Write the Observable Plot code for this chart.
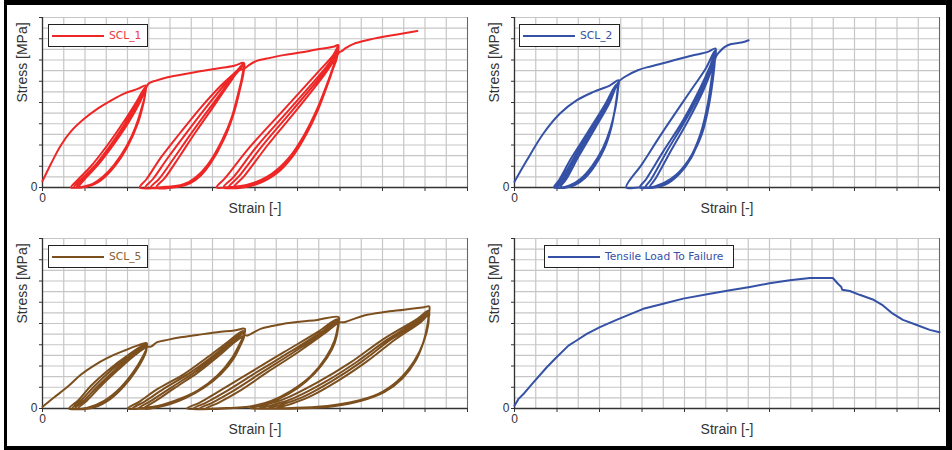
<!DOCTYPE html>
<html>
<head>
<meta charset="utf-8">
<script src="https://cdn.jsdelivr.net/npm/d3@7"></script>
<script src="https://cdn.jsdelivr.net/npm/@observablehq/plot@0.6"></script>
<style>
  html, body { margin: 0; padding: 0; background: #fff; }
  #wrap { position: relative; width: 952px; height: 450px; overflow: hidden; background: #fff; }
  #frame { position: absolute; left: 4px; top: 0; width: 948px; height: 450px; box-sizing: border-box;
           border-left: 3px solid #000; border-top: 5px solid #000; border-right: 6px solid #000; border-bottom: 4px solid #000; }
  .panel { position: absolute; }
  .legend { position: absolute; box-sizing: border-box; background: #fff; border: 1.5px solid #222;
            display: flex; align-items: center; font-family: "DejaVu Sans", sans-serif; font-size: 10.7px; white-space: nowrap; }
  .legend .sw { display: inline-block; height: 2px; margin-left: 2.5px; margin-right: 5.5px; }
</style>
</head>
<body>
<div id="wrap"><div id="frame"></div></div>
<script>
// ---- categories / labels ----
const seriesNames = ["SCL_1", "SCL_2", "SCL_5", "Tensile Load To Failure"];
const xLabel = "Strain [-]";
const yLabel = "Stress [MPa]";
const xMajorTicks = [0,1,2,3,4,5,6,7,8,9,10];
const yMajorTicks = [0,1,2,3,4,5,6,7,8];
const xGridTicks = [0,0.5,1,1.5,2,2.5,3,3.5,4,4.5,5,5.5,6,6.5,7,7.5,8,8.5,9,9.5,10];
const yGridTicks = [0,0.5,1,1.5,2,2.5,3,3.5,4,4.5,5,5.5,6,6.5,7,7.5,8];

// ---- SCL_1 : [strain, stress] in order of test ----
const scl1 = [
  [0,0.3],[0.2,1.12],[0.43,1.98],[0.67,2.64],[0.98,3.23],[1.29,3.7],[1.61,4.09],[1.92,4.42],[2.24,4.64],[2.43,4.8],
  [2.42,4.45],[2.38,4.0],[2.24,3.0],[2.02,2.0],[1.69,1.0],[1.45,0.5],[1.2,0.18],[0.95,0.04],[0.67,0],
  [0.85,0.4],[1.14,1.0],[1.53,2.0],[1.88,3.0],[2.2,4.0],[2.42,4.72],
  [2.41,4.3],[2.34,3.8],[2.2,2.9],[1.98,1.95],[1.68,1.05],[1.42,0.5],[1.18,0.17],[0.96,0.03],[0.74,0],
  [0.92,0.4],[1.22,1.0],[1.6,2.0],[1.94,3.0],[2.24,4.0],[2.42,4.68],
  [2.4,4.25],[2.33,3.7],[2.19,2.85],[1.98,1.9],[1.7,1.05],[1.45,0.5],[1.22,0.17],[1.0,0.03],[0.8,0],
  [0.98,0.42],[1.28,1.05],[1.66,2.05],[1.98,3.0],[2.27,4.0],[2.42,4.65],
  [2.4,4.2],[2.32,3.6],[2.18,2.75],[1.98,1.85],[1.72,1.05],[1.48,0.52],[1.25,0.18],[1.03,0.04],[0.85,0],
  [1.02,0.45],[1.32,1.1],[1.7,2.1],[2.02,3.05],[2.3,4.05],[2.44,4.7],
  [2.5,4.9],[2.67,5.03],[2.94,5.19],[3.49,5.39],[4.04,5.58],[4.51,5.73],[4.74,5.86],
  [4.73,5.4],[4.66,4.74],[4.5,3.48],[4.26,2.23],[3.87,0.97],[3.6,0.45],[3.3,0.14],[2.9,0.03],[2.29,0],
  [2.45,0.4],[2.8,1.45],[3.25,2.6],[3.72,3.75],[4.2,4.8],[4.55,5.45],[4.73,5.8],
  [4.71,5.3],[4.63,4.6],[4.47,3.4],[4.22,2.2],[3.88,1.05],[3.62,0.5],[3.35,0.16],[3.0,0.03],[2.42,0],
  [2.6,0.4],[2.95,1.4],[3.38,2.55],[3.82,3.7],[4.27,4.8],[4.58,5.45],[4.73,5.78],
  [4.7,5.25],[4.62,4.55],[4.46,3.35],[4.23,2.2],[3.92,1.1],[3.67,0.52],[3.4,0.17],[3.1,0.03],[2.55,0],
  [2.75,0.42],[3.1,1.4],[3.5,2.55],[3.92,3.7],[4.33,4.8],[4.6,5.45],[4.73,5.75],
  [4.7,5.2],[4.62,4.5],[4.47,3.35],[4.25,2.2],[3.96,1.15],[3.72,0.55],[3.47,0.19],[3.2,0.04],[2.68,0],
  [2.88,0.45],[3.22,1.45],[3.6,2.6],[4.0,3.75],[4.38,4.85],[4.62,5.5],[4.76,5.6],
  [4.85,5.75],[5.04,5.96],[5.28,6.07],[5.67,6.23],[6.06,6.35],[6.45,6.49],[6.84,6.62],[6.96,6.7],
  [6.94,6.3],[6.89,5.99],[6.73,5.05],[6.45,3.64],[6.14,2.38],[5.75,1.29],[5.28,0.5],[4.8,0.12],[4.4,0.02],[4.1,0],
  [4.3,0.45],[4.88,1.91],[5.67,3.64],[6.45,5.36],[6.84,6.23],[6.95,6.62],
  [6.93,6.2],[6.86,5.8],[6.7,4.9],[6.44,3.6],[6.15,2.45],[5.8,1.4],[5.35,0.55],[4.85,0.12],[4.26,0],
  [4.5,0.5],[5.05,1.95],[5.8,3.65],[6.52,5.3],[6.86,6.15],[6.95,6.55],
  [6.92,6.1],[6.85,5.7],[6.7,4.85],[6.46,3.65],[6.18,2.5],[5.85,1.45],[5.45,0.62],[4.95,0.14],[4.38,0],
  [4.62,0.52],[5.18,1.98],[5.9,3.68],[6.58,5.3],[6.88,6.1],[6.96,6.5],
  [6.92,6.05],[6.84,5.6],[6.69,4.75],[6.47,3.6],[6.22,2.55],[5.9,1.5],[5.52,0.68],[5.05,0.16],[4.5,0],
  [4.75,0.55],[5.3,2.0],[6.0,3.7],[6.63,5.3],[6.9,6.1],[6.98,6.35],
  [7.04,6.42],[7.16,6.59],[7.31,6.75],[7.63,6.93],[8.02,7.09],[8.41,7.22],[8.82,7.36]
];

// ---- SCL_2 ----
const scl2 = [
  [0,0.27],[0.29,1.28],[0.68,2.54],[1.07,3.48],[1.46,4.1],[1.86,4.5],[2.25,4.81],[2.45,5.05],
  [2.44,4.7],[2.38,3.8],[2.26,2.8],[2.08,1.85],[1.82,1.0],[1.55,0.4],[1.28,0.08],[0.93,0],
  [1.05,0.35],[1.33,1.36],[1.73,2.62],[2.12,3.87],[2.4,4.85],
  [2.43,4.6],[2.37,3.75],[2.26,2.8],[2.08,1.85],[1.85,1.05],[1.58,0.42],[1.32,0.1],[0.98,0],
  [1.1,0.35],[1.4,1.4],[1.8,2.7],[2.17,3.9],[2.42,4.85],
  [2.43,4.55],[2.37,3.7],[2.26,2.75],[2.1,1.85],[1.88,1.05],[1.62,0.42],[1.37,0.1],[1.03,0],
  [1.16,0.38],[1.46,1.45],[1.85,2.75],[2.2,3.95],[2.43,4.85],
  [2.42,4.5],[2.36,3.65],[2.27,2.75],[2.12,1.85],[1.9,1.05],[1.66,0.45],[1.42,0.12],[1.08,0],
  [1.22,0.4],[1.52,1.5],[1.9,2.8],[2.24,4.0],[2.44,4.95],
  [2.59,5.2],[2.9,5.52],[3.22,5.71],[3.69,5.95],[4.16,6.2],[4.55,6.38],[4.73,6.54],
  [4.72,6.1],[4.69,5.44],[4.59,4.03],[4.4,2.46],[4.08,1.21],[3.69,0.42],[3.3,0.05],[2.9,0],[2.63,0],
  [3.0,1.1],[3.45,2.5],[4.16,4.6],[4.5,5.6],[4.72,6.45],
  [4.71,6.0],[4.66,5.3],[4.56,4.0],[4.38,2.5],[4.1,1.3],[3.75,0.5],[3.4,0.1],[2.95,0],
  [3.1,0.4],[3.5,1.7],[3.95,3.1],[4.35,4.6],[4.6,5.7],[4.72,6.35],
  [4.7,5.95],[4.65,5.2],[4.55,3.95],[4.38,2.55],[4.12,1.35],[3.8,0.55],[3.48,0.12],[3.08,0],
  [3.22,0.4],[3.6,1.75],[4.02,3.15],[4.4,4.6],[4.62,5.65],[4.72,6.3],
  [4.7,5.9],[4.64,5.15],[4.55,3.95],[4.4,2.6],[4.16,1.4],[3.86,0.6],[3.55,0.14],[3.18,0],
  [3.32,0.42],[3.7,1.8],[4.1,3.2],[4.45,4.6],[4.65,5.6],[4.75,6.2],
  [4.79,6.31],[4.95,6.62],[5.1,6.75],[5.34,6.82],[5.51,6.93]
];

// ---- SCL_5 ----
const scl5 = [
  [0,0.08],[0.27,0.52],[0.59,1.02],[0.9,1.59],[1.21,2.02],[1.53,2.38],[1.92,2.72],[2.23,2.96],[2.45,3.08],
  [2.45,2.85],[2.35,2.41],[2.16,1.78],[1.84,0.99],[1.45,0.36],[1.06,0.04],[0.63,0],
  [0.85,0.4],[1.14,1.07],[1.53,1.78],[2.0,2.49],[2.42,3.0],
  [2.44,2.8],[2.34,2.35],[2.15,1.75],[1.86,1.02],[1.5,0.4],[1.12,0.05],[0.7,0],
  [0.92,0.4],[1.22,1.05],[1.62,1.8],[2.06,2.5],[2.43,2.98],
  [2.44,2.75],[2.34,2.3],[2.16,1.72],[1.88,1.02],[1.55,0.42],[1.18,0.06],[0.77,0],
  [0.98,0.38],[1.3,1.05],[1.7,1.8],[2.12,2.5],[2.44,2.95],
  [2.44,2.7],[2.35,2.28],[2.18,1.72],[1.92,1.05],[1.6,0.45],[1.24,0.07],[0.84,0],
  [1.05,0.38],[1.38,1.07],[1.78,1.82],[2.18,2.52],[2.46,2.9],
  [2.55,2.91],[2.7,3.12],[2.94,3.23],[3.25,3.35],[3.64,3.46],[4.11,3.59],[4.51,3.67],[4.76,3.75],
  [4.75,3.5],[4.66,3.12],[4.47,2.41],[4.11,1.54],[3.64,0.83],[3.1,0.36],[2.6,0.08],[2.0,0],
  [2.3,0.35],[2.7,0.91],[3.33,1.62],[3.88,2.41],[4.35,3.12],[4.72,3.65],
  [4.74,3.45],[4.65,3.05],[4.47,2.38],[4.14,1.58],[3.7,0.9],[3.2,0.4],[2.7,0.1],[2.12,0],
  [2.42,0.35],[2.85,0.92],[3.45,1.65],[3.98,2.42],[4.42,3.12],[4.73,3.6],
  [4.74,3.4],[4.66,3.02],[4.48,2.36],[4.17,1.6],[3.76,0.95],[3.28,0.44],[2.8,0.12],[2.25,0],
  [2.55,0.36],[3.0,0.95],[3.56,1.68],[4.06,2.44],[4.47,3.12],[4.74,3.55],
  [4.74,3.35],[4.66,2.98],[4.5,2.36],[4.2,1.62],[3.8,0.98],[3.35,0.48],[2.88,0.14],[2.38,0],
  [2.68,0.38],[3.12,0.98],[3.66,1.7],[4.13,2.45],[4.52,3.12],[4.76,3.45],
  [4.82,3.43],[5.13,3.75],[5.4,3.88],[5.68,3.99],[6.1,4.09],[6.47,4.17],[6.97,4.3],
  [6.96,4.0],[6.87,3.2],[6.67,2.41],[6.32,1.54],[5.85,0.83],[5.38,0.36],[4.9,0.1],[4.2,0.01],[3.4,0],
  [3.7,0.28],[4.11,0.76],[4.89,1.7],[5.68,2.65],[6.47,3.59],[6.94,4.2],
  [6.96,3.95],[6.87,3.15],[6.68,2.4],[6.36,1.6],[5.92,0.9],[5.45,0.4],[4.95,0.12],[4.3,0.01],[3.55,0],
  [3.85,0.28],[4.3,0.78],[5.05,1.72],[5.82,2.66],[6.55,3.58],[6.95,4.15],
  [6.96,3.9],[6.87,3.12],[6.69,2.4],[6.38,1.62],[5.96,0.93],[5.5,0.43],[5.02,0.13],[4.42,0.02],[3.7,0],
  [4.0,0.28],[4.45,0.78],[5.18,1.72],[5.92,2.66],[6.6,3.56],[6.96,4.1],
  [6.96,3.85],[6.88,3.1],[6.7,2.4],[6.4,1.65],[6.0,0.96],[5.56,0.46],[5.08,0.15],[4.5,0.02],[3.85,0],
  [4.15,0.28],[4.6,0.78],[5.3,1.72],[6.02,2.66],[6.65,3.55],[6.98,4.05],
  [7.1,4.06],[7.26,4.17],[7.57,4.38],[8.04,4.54],[8.51,4.65],[8.98,4.77],[9.1,4.8],
  [9.09,4.4],[9.08,3.98],[8.98,3.2],[8.75,2.25],[8.36,1.31],[7.89,0.68],[7.26,0.3],[6.47,0.08],[5.6,0.01],[4.89,0],
  [5.2,0.15],[5.68,0.44],[6.47,1.23],[7.25,2.17],[8.03,3.28],[8.82,4.22],[9.08,4.6],
  [9.08,4.3],[9.06,3.9],[8.97,3.15],[8.76,2.25],[8.4,1.35],[7.95,0.72],[7.35,0.32],[6.6,0.09],[5.8,0.01],[5.1,0],
  [5.4,0.16],[5.9,0.48],[6.65,1.25],[7.4,2.2],[8.12,3.25],[8.86,4.18],[9.09,4.55],
  [9.08,4.25],[9.05,3.85],[8.96,3.12],[8.77,2.25],[8.43,1.38],[8.0,0.75],[7.42,0.34],[6.72,0.1],[5.95,0.01],[5.3,0],
  [5.6,0.17],[6.08,0.5],[6.8,1.28],[7.52,2.22],[8.2,3.25],[8.9,4.15],[9.1,4.5],
  [9.08,4.2],[9.05,3.8],[8.96,3.1],[8.78,2.25],[8.46,1.4],[8.05,0.78],[7.5,0.36],[6.85,0.11],[6.1,0.01],[5.5,0],
  [5.8,0.18],[6.25,0.52],[6.95,1.3],[7.65,2.24],[8.3,3.25],[8.92,4.1],[9.08,4.45]
];

// ---- Tensile Load To Failure ----
const tensile = [
  [0,0.13],[0.09,0.44],[0.21,0.68],[0.41,1.15],[0.76,1.94],[0.99,2.41],[1.27,2.96],[1.46,3.2],[1.7,3.51],
  [2.01,3.83],[2.4,4.17],[2.8,4.5],[3.03,4.69],[3.5,4.93],[3.97,5.17],[4.6,5.4],[5.07,5.56],[5.54,5.72],
  [6.0,5.89],[6.48,6.03],[6.95,6.14],[7.26,6.14],[7.49,6.14],[7.61,5.87],[7.69,5.72],[7.71,5.59],[7.89,5.53],
  [8.12,5.35],[8.43,5.13],[8.67,4.85],[8.9,4.46],[9.14,4.17],[9.45,3.94],[9.77,3.7],[10.0,3.59]
];

const colors = ["#ee2626", "#3451a6", "#7c4f1f", "#3451a6"];
const textColors = ["#ee3a3a", "#3451a6", "#8a6030", "#3451a6"];

const panels = [
  {data: scl1, left: 0, top: 0, mL: 42, mR: 9, mT: 17, mB: 38, curve: "catmull-rom",
   legend: {x: 48, y: 24, w: 100, h: 23}},
  {data: scl2, left: 476, top: 0, mL: 38, mR: 13, mT: 17, mB: 38, curve: "catmull-rom",
   legend: {x: 519, y: 24, w: 101, h: 23}},
  {data: scl5, left: 0, top: 225, mL: 42, mR: 9, mT: 13, mB: 42, curve: "catmull-rom",
   legend: {x: 48, y: 245, w: 100, h: 23}},
  {data: tensile, left: 476, top: 225, mL: 38, mR: 13, mT: 13, mB: 42, curve: "linear",
   legend: {x: 544, y: 245, w: 190, h: 23}}
];

const wrap = document.getElementById("wrap");

panels.forEach((p, i) => {
  const chart = Plot.plot({
    width: 476, height: 225,
    marginLeft: p.mL, marginRight: p.mR, marginTop: p.mT, marginBottom: p.mB,
    x: {domain: [0, 10]},
    y: {domain: [0, 8]},
    style: {fontFamily: "'Liberation Sans', Arial, sans-serif", fontSize: "12px", color: "#333", background: "transparent", overflow: "visible"},
    marks: [
      Plot.ruleX(xGridTicks, {stroke: "#c6c6c6", strokeWidth: 1.2}),
      Plot.ruleY(yGridTicks, {stroke: "#c6c6c6", strokeWidth: 1.2}),
      Plot.ruleX([10], {stroke: "#666", strokeWidth: 1}),
      Plot.axisX({ticks: xMajorTicks, tickSize: 4, tickPadding: 2, tickFormat: d => d === 0 ? "0" : "", label: null, stroke: "#333"}),
      Plot.axisY({ticks: yMajorTicks, tickSize: 3, tickPadding: 2, tickFormat: d => d === 0 ? "0" : "", label: null, stroke: "#333"}),
      Plot.ruleX([0], {stroke: "#333", strokeWidth: 1.3}),
      Plot.ruleY([0], {stroke: "#333", strokeWidth: 1.3}),
      Plot.line(p.data, {x: d => d[0], y: d => d[1], stroke: colors[i], strokeWidth: 2, curve: p.curve}),
      Plot.text([xLabel], {text: d => d, frameAnchor: "bottom", dy: 25, fontSize: 14, fill: "#333"}),
      Plot.text([yLabel], {text: d => d, frameAnchor: "left", dx: -20, rotate: -90, fontSize: 14, fill: "#333"})
    ]
  });
  const holder = document.createElement("div");
  holder.className = "panel";
  holder.style.left = p.left + "px";
  holder.style.top = p.top + "px";
  holder.appendChild(chart);
  wrap.appendChild(holder);

  const lg = document.createElement("div");
  lg.className = "legend";
  lg.style.left = p.legend.x + "px";
  lg.style.top = p.legend.y + "px";
  lg.style.width = p.legend.w + "px";
  lg.style.height = p.legend.h + "px";
  const sw = document.createElement("span");
  sw.className = "sw";
  sw.style.width = "52px";
  sw.style.background = colors[i];
  const tx = document.createElement("span");
  tx.textContent = seriesNames[i];
  tx.style.color = textColors[i];
  lg.appendChild(sw);
  lg.appendChild(tx);
  wrap.appendChild(lg);
});
</script>
</body>
</html>
